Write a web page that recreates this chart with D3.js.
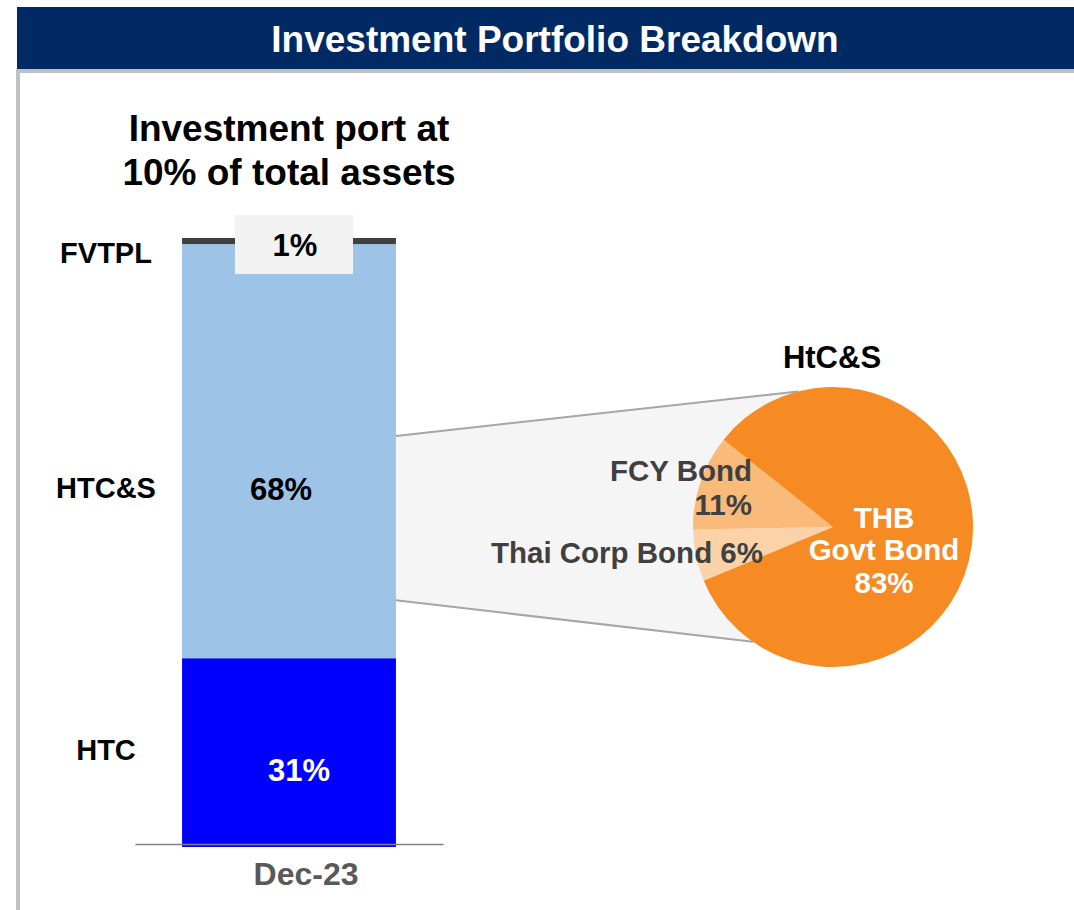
<!DOCTYPE html>
<html>
<head>
    <meta charset="UTF-8">
    <title>Investment Portfolio Breakdown</title>
    <style type="text/css">
        body { margin: 0; background: #fff; }
        svg { display: block; font-family: "Liberation Sans", Arial, sans-serif; font-weight: bold; }
    </style>
    <script src="https://d3js.org/d3.v7.min.js"></script>
</head>
<body>
<script type="text/javascript">
    // bar data (stacked bottom to top)
    var barCategories = ["HTC", "HTC&S", "FVTPL"];
    var barValues = [31, 68, 1];
    var barPeriod = ["Dec-23"];

    // pie data (HtC&S split)
    var pieCategories = ["Thai Corp Bond", "FCY Bond", "THB Govt Bond"];
    var pieValues = [6, 11, 83];

    var width = 1074, height = 910;

    var svg = d3.select("body").append("svg")
        .attr("width", width)
        .attr("height", height);

    // header band
    svg.append("rect").attr("x", 17).attr("y", 69).attr("width", width - 17).attr("height", 4).attr("fill", "#c0c0c0");
    svg.append("rect").attr("x", 16).attr("y", 69).attr("width", 4).attr("height", height - 69).attr("fill", "#c0c0c0");
    svg.append("rect").attr("x", 17).attr("y", 7).attr("width", width - 17).attr("height", 62).attr("fill", "#012a64");
    svg.append("text")
        .attr("x", 555).attr("y", 52)
        .attr("text-anchor", "middle")
        .attr("fill", "#fff")
        .style("font-size", "37px")
        .text("Investment Portfolio Breakdown");

    // subtitle
    svg.append("text").attr("x", 289).attr("y", 141).attr("text-anchor", "middle")
        .style("font-size", "37px").text("Investment port at");
    svg.append("text").attr("x", 289).attr("y", 185).attr("text-anchor", "middle")
        .style("font-size", "37px").text("10% of total assets");

    // ---- stacked bar ----
    var x = d3.scaleBand().domain(barPeriod).range([135, 443]).paddingInner(0).paddingOuter(0.22);
    var y = d3.scaleLinear().domain([0, 100]).range([847, 238]);
    var barColors = ["#0000ff", "#9dc3e6", "#404040"];

    var stacked = [];
    var acc = 0;
    barValues.forEach(function(v, i) {
        stacked.push({ name: barCategories[i], value: v, y0: acc, y1: acc + v, color: barColors[i] });
        acc += v;
    });

    svg.selectAll(".bar").data(stacked).enter().append("rect")
        .attr("class", "bar")
        .attr("x", x("Dec-23"))
        .attr("width", x.bandwidth())
        .attr("y", function(d) { return y(d.y1); })
        .attr("height", function(d) { return y(d.y0) - y(d.y1); })
        .attr("fill", function(d) { return d.color; });

    // x axis line + label
    var xAxis = svg.append("g")
        .attr("transform", "translate(0,844)")
        .call(d3.axisBottom(x).tickSize(0).tickPadding(18));
    xAxis.select(".domain").attr("stroke", "#808080").attr("stroke-width", 1.5);
    xAxis.selectAll("text")
        .attr("fill", "#595959")
        .style("font-size", "32px")
        .style("font-family", "Liberation Sans, Arial, sans-serif")
        .style("font-weight", "bold")
        .attr("dx", 17);

    // category labels on the left
    var catLabelY = { "HTC": 760, "HTC&S": 498, "FVTPL": 263 };
    svg.selectAll(".cat").data(stacked).enter().append("text")
        .attr("class", "cat")
        .attr("x", 106)
        .attr("y", function(d) { return catLabelY[d.name]; })
        .attr("text-anchor", "middle")
        .style("font-size", "29px")
        .text(function(d) { return d.name; });

    // value labels
    var cx = x("Dec-23") + x.bandwidth() / 2;
    svg.append("text").attr("x", cx + 10).attr("y", 781)
        .attr("text-anchor", "middle").attr("fill", "#fff").style("font-size", "31px")
        .text(barValues[0] + "%");
    svg.append("text").attr("x", cx - 8).attr("y", 500)
        .attr("text-anchor", "middle").attr("fill", "#000").style("font-size", "31px")
        .text(barValues[1] + "%");
    svg.append("rect").attr("x", 235).attr("y", 215).attr("width", 118).attr("height", 59).attr("fill", "#f2f2f2");
    svg.append("text").attr("x", 295).attr("y", 256)
        .attr("text-anchor", "middle").attr("fill", "#000").style("font-size", "31px")
        .text(barValues[2] + "%");

    // ---- pie ----
    var pcx = 833, pcy = 527, r = 140;
    var deg = Math.PI / 180;
    var small = (pieValues[0] + pieValues[1]) / 100 * 360;
    var start = (278 - small / 2) * deg;

    // connector between bar and pie
    var barRight = x("Dec-23") + x.bandwidth();
    var cTop = y(67.5), cBot = y(40.5);
    var aTop = 345.5 * deg, aBot = 214.9 * deg;
    var pTop = [pcx + r * Math.sin(aTop), pcy - r * Math.cos(aTop)];
    var pBot = [pcx + r * Math.sin(aBot), pcy - r * Math.cos(aBot)];
    svg.append("path")
        .attr("d", d3.line()([[barRight, cTop], pTop, [pcx, pcy], pBot, [barRight, cBot]]) + "Z")
        .attr("fill", "#f5f5f5");
    svg.append("line").attr("x1", barRight).attr("y1", cTop).attr("x2", pTop[0]).attr("y2", pTop[1])
        .attr("stroke", "#a6a6a6").attr("stroke-width", 2);
    svg.append("line").attr("x1", barRight).attr("y1", cBot).attr("x2", pBot[0]).attr("y2", pBot[1])
        .attr("stroke", "#a6a6a6").attr("stroke-width", 2);

    var pie = d3.pie().sort(null).startAngle(start).endAngle(start + 2 * Math.PI);
    var arc = d3.arc().innerRadius(0).outerRadius(r);
    var pieColors = ["#fcd3a8", "#f9ba7a", "#f58b22"];

    var pg = svg.append("g").attr("transform", "translate(" + pcx + "," + pcy + ")");
    pg.selectAll("path").data(pie(pieValues)).enter().append("path")
        .attr("d", arc)
        .attr("fill", function(d, i) { return pieColors[i]; });

    svg.append("text").attr("x", pcx - 1).attr("y", 368).attr("text-anchor", "middle")
        .style("font-size", "31px").text("HtC&S");

    // pie labels
    pg.append("text").attr("x", -70).attr("y", 36).attr("text-anchor", "end")
        .attr("fill", "#404040").style("font-size", "29.5px")
        .text(pieCategories[0] + " " + pieValues[0] + "%");
    var fcy = pg.append("text").attr("text-anchor", "end").attr("fill", "#404040").style("font-size", "29.5px");
    fcy.append("tspan").attr("x", -81).attr("y", -46).text(pieCategories[1]);
    fcy.append("tspan").attr("x", -81).attr("y", -12).text(pieValues[1] + "%");
    var thb = pg.append("text").attr("text-anchor", "middle").attr("fill", "#fff").style("font-size", "29.5px");
    thb.append("tspan").attr("x", 51).attr("y", 1).text("THB");
    thb.append("tspan").attr("x", 51).attr("y", 33).text("Govt Bond");
    thb.append("tspan").attr("x", 51).attr("y", 66).text(pieValues[2] + "%");
</script>
</body>
</html>
